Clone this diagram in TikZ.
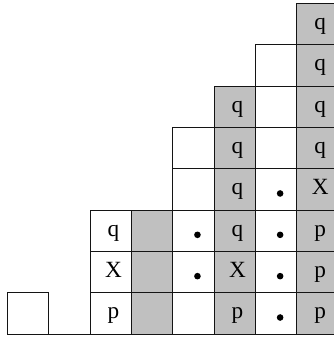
\documentclass[tikz,border=0pt]{standalone}
\usepackage{fontspec}
\setmainfont{Liberation Serif}
\usepackage{tikz}
\usetikzlibrary{positioning}
\definecolor{cellgray}{RGB}{192,192,192}
\definecolor{celldark}{RGB}{20,20,20}
\tikzset{
  whitecell/.style={draw=celldark, fill=white, line width=0.6pt},
  graycell/.style={draw=celldark, fill=cellgray, line width=0.6pt},
  letter/.style={anchor=base, inner sep=0pt, font=\fontsize{16}{18}\selectfont},
  dotmark/.style={fill=black}
}

\begin{document}
\begin{tikzpicture}[x=1cm, y=1cm]
  \useasboundingbox (-0.176,-0.12) rectangle (7.89,8.08);
  % ── base line under the columns ─────────────────────────────────────────
  \draw[line width=0.6pt, color=celldark] (0,0) -- (8,0);
  % ── white columns ───────────────────────────────────────────────────────
  \draw[whitecell] (0,0) rectangle (1,1);
  \foreach \y in {0,...,2} \draw[whitecell] (2,\y) rectangle (3,\y+1);
  \foreach \y in {0,...,4} \draw[whitecell] (4,\y) rectangle (5,\y+1);
  \foreach \y in {0,...,6} \draw[whitecell] (6,\y) rectangle (7,\y+1);
  % ── gray columns ────────────────────────────────────────────────────────
  \foreach \y in {0,...,2} \draw[graycell] (3,\y) rectangle (4,\y+1);
  \foreach \y in {0,...,5} \draw[graycell] (5,\y) rectangle (6,\y+1);
  \foreach \y in {0,...,7} \draw[graycell] (7,\y) rectangle (8,\y+1);
  % ── letters ─────────────────────────────────────────────────────────────
  \foreach \x/\y/\t [count=\i] in {2/2/q, 2/1/X, 2/0/p,
      5/5/q, 5/4/q, 5/3/q, 5/2/q, 5/1/X, 5/0/p,
      7/7/q, 7/6/q, 7/5/q, 7/4/q, 7/3/X, 7/2/p, 7/1/p, 7/0/p}
    \node[letter] (lbl\i) at (\x+0.57,\y+0.37) {\t};
  % ── dots ────────────────────────────────────────────────────────────────
  \foreach \x/\y in {4/2, 4/1, 6/3, 6/2, 6/1, 6/0}
    \fill[dotmark] (\x+0.6,\y+0.4) circle (0.08);
\end{tikzpicture}
\end{document}
